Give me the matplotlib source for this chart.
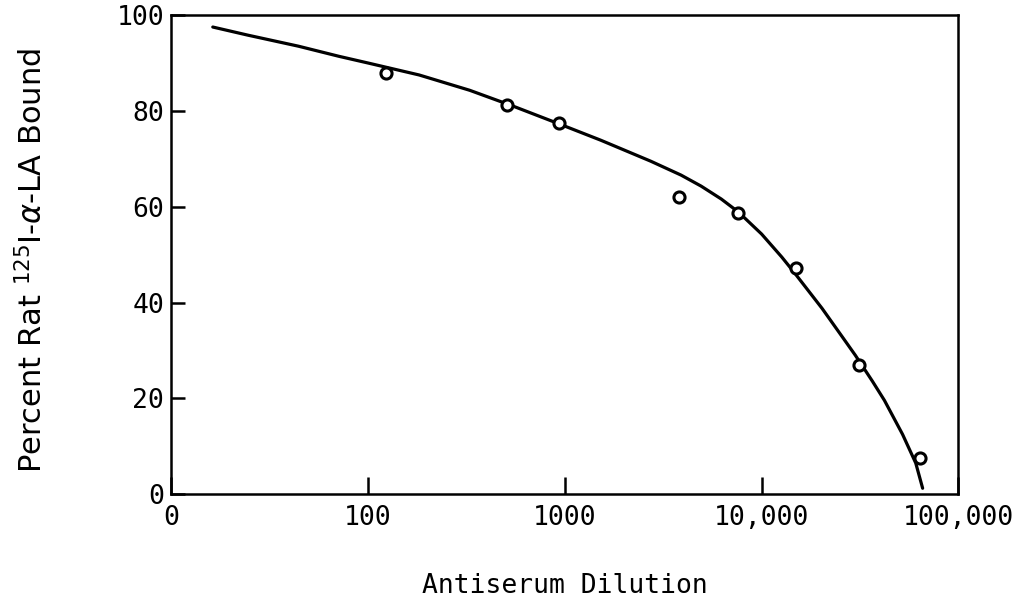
import matplotlib
matplotlib.use("Agg")
import matplotlib.pyplot as plt
from matplotlib.ticker import FixedLocator, FixedFormatter

# measured points (antiserum dilution, percent bound)
dilution = [124, 508, 937, 3800, 7600, 15000, 31300, 63500]
pct_bound = [87.9, 81.2, 77.5, 62.0, 58.7, 47.2, 26.9, 7.5]

# hand-drawn curve
curve_x = [16.3, 24.6, 44.4, 71.1, 100, 182, 329, 546, 948, 1520, 2735,
           3898, 4930, 6243, 7620, 10000, 12660, 14760, 20270, 25640,
           29930, 36530, 42050, 52000, 60680, 65770]
curve_y = [97.5, 95.8, 93.5, 91.4, 90.0, 87.5, 84.3, 81.0, 77.2, 73.9, 69.5,
           66.6, 64.3, 61.6, 58.9, 54.3, 49.5, 46.1, 38.8, 32.9,
           29.0, 23.6, 19.6, 12.5, 6.5, 1.25]

x_ticks = [10, 100, 1000, 10000, 100000]
x_labels = ["0", "100", "1000", "10,000", "100,000"]
y_ticks = [0, 20, 40, 60, 80, 100]

fig = plt.figure(figsize=(10.24, 6.02), dpi=100)
ax = fig.add_axes([0.167, 0.179, 0.769, 0.796])

ax.plot(curve_x, curve_y, color="black", lw=2.3, solid_capstyle="round",
        solid_joinstyle="round")
ax.plot(dilution, pct_bound, "o", ms=8, mfc="white", mec="black", mew=2.2)

ax.set_xscale("log")
ax.set_xlim(10, 100000)
ax.set_ylim(0, 100)
ax.xaxis.set_major_locator(FixedLocator(x_ticks))
ax.xaxis.set_major_formatter(FixedFormatter(x_labels))
ax.xaxis.set_minor_locator(FixedLocator([]))
ax.set_yticks(y_ticks)

for s in ax.spines.values():
    s.set_linewidth(1.8)

ax.tick_params(axis="x", direction="in", length=12, width=1.8, pad=8)
ax.tick_params(axis="y", direction="in", length=10, width=1.8, pad=5)
for lab in ax.get_xticklabels() + ax.get_yticklabels():
    lab.set_family("DejaVu Sans Mono")
    lab.set_fontsize(19)

ax.set_xlabel("Antiserum Dilution", family="DejaVu Sans Mono", fontsize=19, labelpad=30)
fig.text(0.031, 0.568, r"Percent Rat $^{125}$I-$\alpha$-LA Bound", rotation=90,
         ha="center", va="center", family="DejaVu Sans", fontsize=22)

fig.savefig("out.png", dpi=100)
